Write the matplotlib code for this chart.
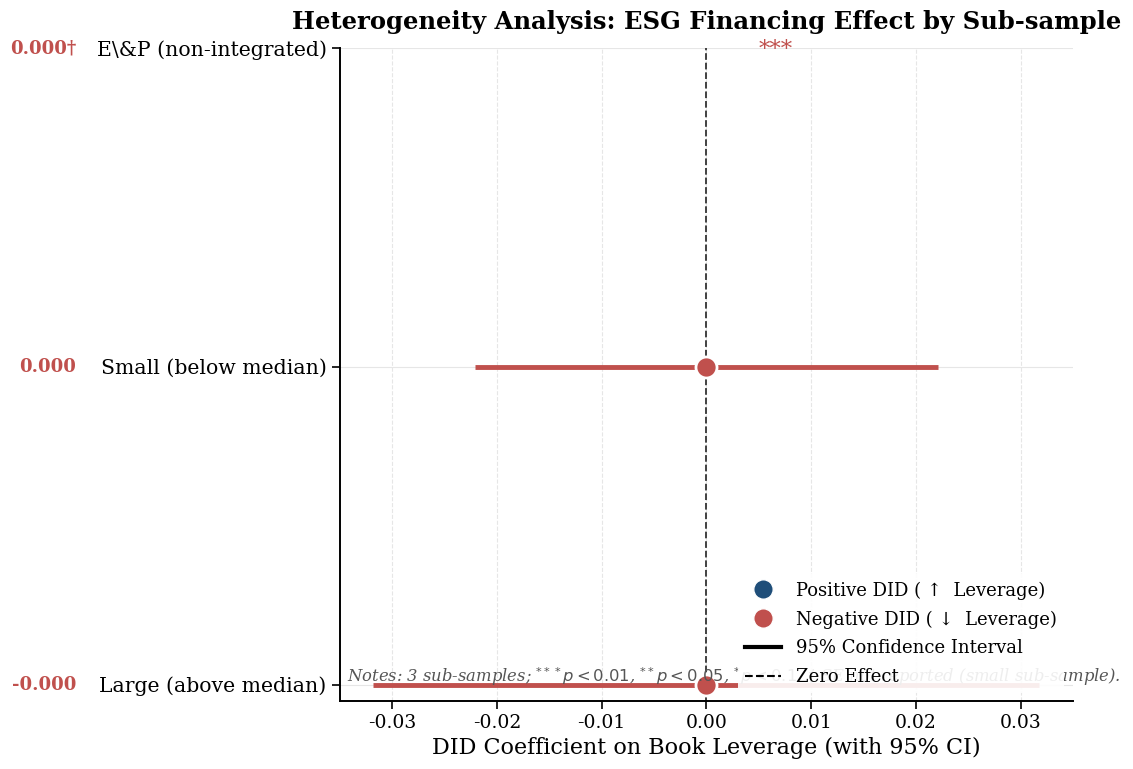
import numpy as np
import matplotlib
matplotlib.use("Agg")
import matplotlib.pyplot as plt
from matplotlib.lines import Line2D

plt.rcParams['font.family'] = ['DejaVu Serif']

# sub-sample estimates (bottom to top)
groups = ["Large (above median)", "Small (below median)", "E\\&P (non-integrated)"]
coefs = [-0.0000, 0.0000, np.nan]
ci_low = [-0.0318, -0.0221, np.nan]
ci_high = [0.0318, 0.0221, np.nan]
value_labels = ["-0.000", "0.000", "0.000\u2020"]
stars = ["", "", "***"]

pos_color = "#1f4e79"
neg_color = "#c0504d"

fig, ax = plt.subplots(figsize=(11.33, 7.69), dpi=100)
fig.subplots_adjust(left=0.300, right=0.947, top=0.937, bottom=0.089)

y = np.arange(len(groups))
for i in range(len(groups)):
    c = neg_color
    if not np.isnan(ci_low[i]):
        ax.plot([ci_low[i], ci_high[i]], [y[i], y[i]], color=c, lw=3.5,
                solid_capstyle='butt', zorder=2)
    if not np.isnan(coefs[i]):
        ax.scatter(coefs[i], y[i], s=230, color=c, edgecolor='white',
                   linewidth=2, zorder=3)
    if stars[i]:
        ax.text(0.0066, y[i] - 0.005, stars[i], color=c, fontsize=16.5,
                ha='center', va='center', zorder=4)
    ax.text(-0.36, y[i], value_labels[i], transform=ax.get_yaxis_transform(),
            color=c, fontsize=13, fontweight='bold', ha='right', va='center')

ax.axvline(0, color='#333333', ls='--', lw=1.3, zorder=1)

ax.set_yticks(y)
ax.set_yticklabels(groups, fontsize=14.7)
ax.set_xlim(-0.035, 0.035)
ax.set_ylim(-0.05, 2.0)
ax.set_xticks([-0.03, -0.02, -0.01, 0.0, 0.01, 0.02, 0.03])
ax.set_xticklabels(["-0.03", "-0.02", "-0.01", "0.00", "0.01", "0.02", "0.03"])
ax.tick_params(axis='x', labelsize=13.5, length=6, width=1.2)
ax.tick_params(axis='y', length=6, width=1.2)
ax.set_xlabel("DID Coefficient on Book Leverage (with 95% CI)", fontsize=16)
ax.set_title("Heterogeneity Analysis: ESG Financing Effect by Sub-sample",
             fontsize=17.5, fontweight='bold', pad=14)

ax.grid(axis='x', ls='--', color='#e6e6e6', lw=0.8, zorder=0)
ax.grid(axis='y', ls='-', color='#e6e6e6', lw=0.8, zorder=0)
ax.set_axisbelow(True)
for s in ['top', 'right']:
    ax.spines[s].set_visible(False)
for s in ['left', 'bottom']:
    ax.spines[s].set_linewidth(1.4)

ax.text(0.01, 0.037,
        "Notes: 3 sub-samples; $^{***}p<0.01$, $^{**}p<0.05$, $^{*}p<0.1$. "
        "\u2020 SE not reported (small sub-sample).",
        transform=ax.transAxes, fontsize=11.8, style='italic', color='#555555',
        ha='left', va='center', zorder=5)

handles = [
    Line2D([0], [0], marker='o', color='w', markerfacecolor=pos_color,
           markersize=14, label="Positive DID ( \u2191  Leverage)"),
    Line2D([0], [0], marker='o', color='w', markerfacecolor=neg_color,
           markersize=14, label="Negative DID ( \u2193  Leverage)"),
    Line2D([0], [0], color='black', lw=3, label="95% Confidence Interval"),
    Line2D([0], [0], color='black', lw=1.5, ls='--', label="Zero Effect"),
]
leg = ax.legend(handles=handles, loc='lower right', fontsize=13,
                frameon=True, framealpha=0.9, edgecolor='none',
                bbox_to_anchor=(1.0, -0.003), handlelength=2, labelspacing=0.6)
leg.set_zorder(10)

fig.savefig("out.png", dpi=100)
